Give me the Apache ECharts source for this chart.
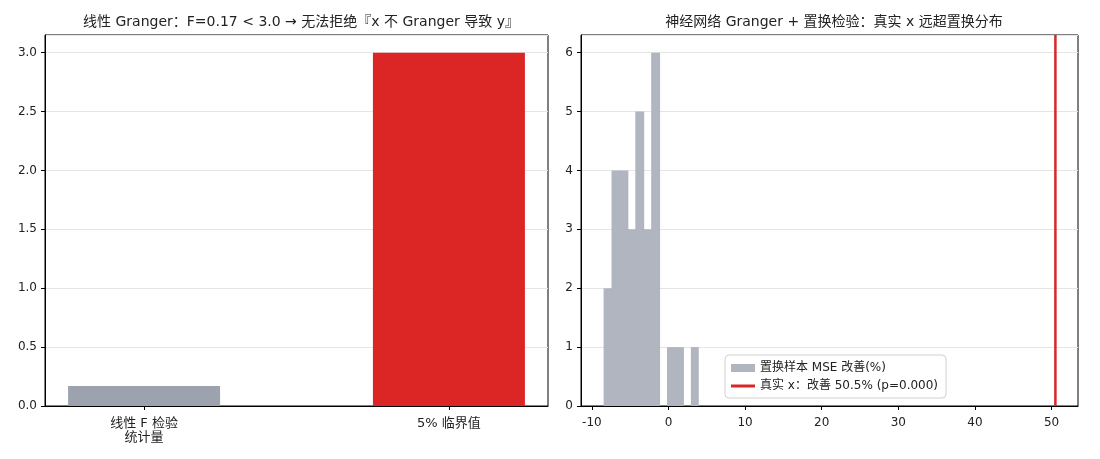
<!DOCTYPE html>
<html>
<head>
<meta charset="utf-8">
<script src="https://cdn.jsdelivr.net/npm/echarts@6/dist/echarts.min.js"></script>
<style>
  html, body { margin: 0; padding: 0; background: #fff; }
  #chart { width: 1100px; height: 459px; }
</style>
</head>
<body>
<div id="chart"></div>
<script>
// left panel: linear Granger F vs critical value
const fCategories = ['线性 F 检验\n统计量', '5% 临界值'];
const fValues = [0.17, 3.0];
const fColors = ['#9ca3af', '#dc2626'];

// right panel: permutation histogram (bin edges + counts) and the real-x improvement
const binEdges = [-8.47, -7.44, -6.40, -5.37, -4.33, -3.30, -2.26, -1.23, -0.19, 0.85, 1.88, 2.92, 3.95];
const binCounts = [2, 4, 4, 3, 5, 3, 6, 0, 1, 1, 0, 1];
const realImprove = 50.5;

const histName = '置换样本 MSE 改善(%)';
const realName = '真实 x：改善 50.5% (p=0.000)';

const font = "'DejaVu Sans', 'Noto Sans CJK SC', sans-serif";
const textColor = '#222';
const histColor = '#b0b5bf';

var myChart = echarts.init(document.getElementById('chart'));

const histData = binCounts.map((c, i) => [binEdges[i], binEdges[i + 1], c]);

const axisLine = { show: true, onZero: false, lineStyle: { color: '#000', width: 1 } };
const axisTick = { show: true, length: 4, lineStyle: { color: '#000' } };
const axisLabel = { color: textColor, fontSize: 12, fontFamily: font };
const splitLine = { show: true, lineStyle: { color: '#e5e5e5', width: 1 } };

var option = {
    animation: false,
    textStyle: { fontFamily: font },
    title: [
        {
            text: '线性 Granger：F=0.17 < 3.0 → 无法拒绝『x 不 Granger 导致 y』',
            left: 296, top: 10, textAlign: 'center',
            textStyle: { fontSize: 14, fontWeight: 'normal', color: textColor, fontFamily: font }
        },
        {
            text: '神经网络 Granger + 置换检验：真实 x 远超置换分布',
            left: 829, top: 10, textAlign: 'center',
            textStyle: { fontSize: 14, fontWeight: 'normal', color: textColor, fontFamily: font }
        }
    ],
    grid: [
        { left: 45, right: 552, top: 35, bottom: 53, show: true, borderColor: '#000', borderWidth: 1 },
        { left: 581, right: 22, top: 35, bottom: 53, show: true, borderColor: '#000', borderWidth: 1 }
    ],
    legend: {
        orient: 'vertical',
        left: 725, top: 355,
        backgroundColor: '#fff',
        borderColor: '#d0d0d0', borderWidth: 1, borderRadius: 4,
        padding: [7, 8, 6, 6],
        itemGap: 6,
        itemWidth: 24, itemHeight: 8,
        textStyle: { fontSize: 12, color: textColor, fontFamily: font },
        data: [
            { name: histName, icon: 'rect' },
            { name: realName, icon: 'path://M0,0L24,0L24,3L0,3Z' }
        ]
    },
    xAxis: [
        {
            gridIndex: 0, type: 'value', min: -0.325, max: 1.325,
            axisLine: axisLine, axisTick: Object.assign({ customValues: [0, 1] }, axisTick),
            axisLabel: Object.assign({}, axisLabel, {
                customValues: [0, 1],
                fontSize: 13, lineHeight: 14, margin: 11,
                formatter: v => fCategories[Math.round(v)]
            }),
            splitLine: { show: false }
        },
        {
            gridIndex: 1, type: 'value', min: -11.42, max: 53.45,
            axisLine: axisLine, axisTick: Object.assign({ customValues: [-10, 0, 10, 20, 30, 40, 50] }, axisTick),
            axisLabel: Object.assign({}, axisLabel, { customValues: [-10, 0, 10, 20, 30, 40, 50], margin: 11 }),
            splitLine: { show: false }
        }
    ],
    yAxis: [
        {
            gridIndex: 0, type: 'value', min: 0, max: 3.15, interval: 0.5,
            axisLine: axisLine, axisTick: axisTick,
            axisLabel: Object.assign({ formatter: v => v.toFixed(1), showMaxLabel: false }, axisLabel),
            splitLine: splitLine
        },
        {
            gridIndex: 1, type: 'value', min: 0, max: 6.3, interval: 1,
            axisLine: axisLine, axisTick: axisTick,
            axisLabel: Object.assign({ showMaxLabel: false }, axisLabel),
            splitLine: splitLine
        }
    ],
    series: [
        {
            type: 'bar', xAxisIndex: 0, yAxisIndex: 0,
            barWidth: 152,
            data: fValues.map((v, i) => ({ value: [i, v], itemStyle: { color: fColors[i] } }))
        },
        {
            name: histName, type: 'custom', xAxisIndex: 1, yAxisIndex: 1,
            itemStyle: { color: histColor },
            encode: { x: [0, 1], y: 2 },
            renderItem: (params, api) => {
                const p0 = api.coord([api.value(0), api.value(2)]);
                const p1 = api.coord([api.value(1), 0]);
                const last = params.dataIndex === binCounts.length - 1;
                return {
                    type: 'rect',
                    shape: { x: p0[0], y: p0[1], width: p1[0] - p0[0] + (last ? 0 : 1), height: p1[1] - p0[1] },
                    style: { fill: histColor, stroke: null, lineWidth: 0 }
                };
            },
            data: histData
        },
        {
            name: realName, type: 'line', xAxisIndex: 1, yAxisIndex: 1,
            symbol: 'none',
            color: '#dc2626',
            lineStyle: { color: '#dc2626', width: 2.5 },
            data: [[realImprove, 0], [realImprove, 6.3]]
        }
    ]
};
myChart.setOption(option);
</script>
</body>
</html>
